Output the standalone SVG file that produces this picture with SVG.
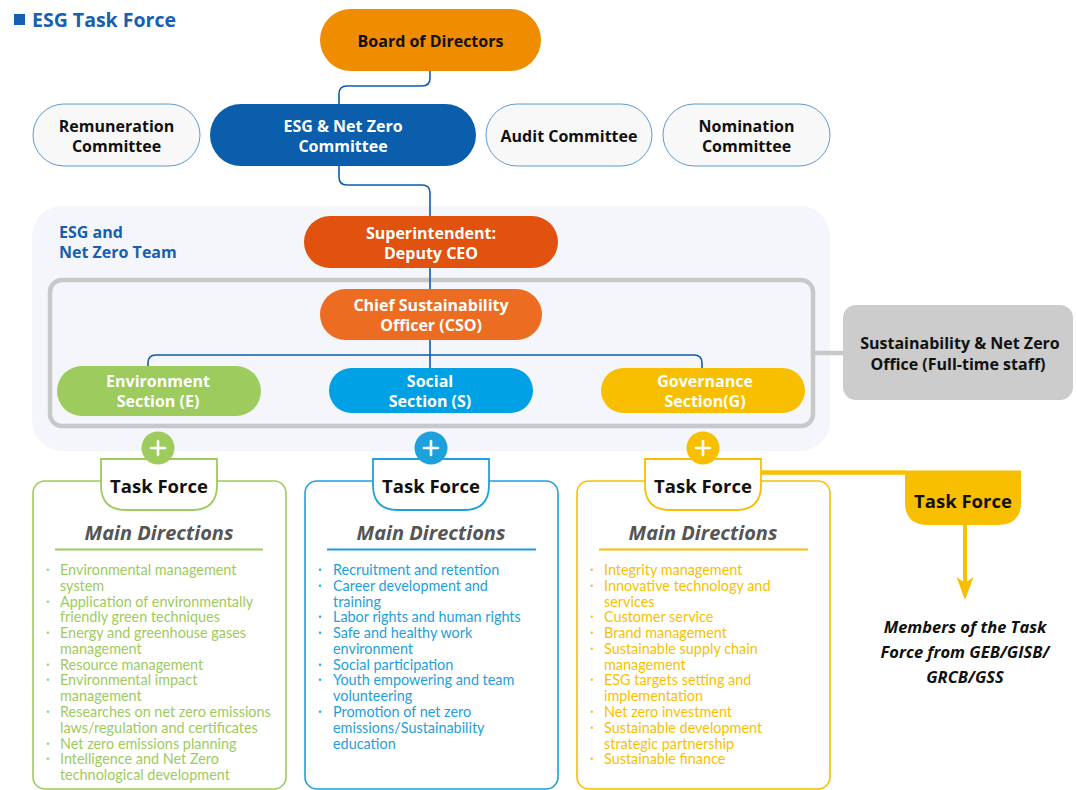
<svg xmlns="http://www.w3.org/2000/svg" width="1077" height="790" viewBox="0 0 1077 790">
  <style>
    text { font-family: "Open Sans", Lato, "Liberation Sans", sans-serif; }
    .title { font-size: 19.5px; font-weight: 700; fill: #1560b0; }
    .nb { font-size: 16px; font-weight: 700; text-anchor: middle; }
    .dark { fill: #111; }
    .light { fill: #fff; }
    .team { font-size: 16px; font-weight: 700; fill: #1560b0; }
    .committee { fill: #f8f8f8; stroke: #5b9bd5; stroke-width: 1; }
    .conn { fill: none; stroke: #0a5eab; stroke-width: 1.6; }
    .tf { font-size: 18.5px; font-weight: 700; fill: #111; text-anchor: middle; }
    .md { font-size: 20px; font-weight: 700; font-style: italic; fill: #555; text-anchor: middle; }
    .li { font-family: Lato, "Open Sans", sans-serif; font-size: 14.4px; }
    .bul { font-size: 10px; }
    .green { fill: #9dcb5d; }
    .blue { fill: #1ea0dc; }
    .yellow { fill: #f8bf00; }
    .gs { stroke: #9dcb5d; }
    .bs { stroke: #1ea0dc; }
    .ys { stroke: #f8bf00; }
    .box { fill: #fff; stroke-width: 1.6; }
    .tab { fill: #fff; stroke-width: 1.8; }
    .plus { stroke: #fff; stroke-width: 2.6; stroke-linecap: round; }
    .members { font-size: 16.5px; font-weight: 700; font-style: italic; fill: #111; text-anchor: middle; }
  </style>

  <rect width="1077" height="790" fill="#fff"/>

  <!-- heading -->
  <g id="heading">
    <rect x="14" y="14" width="11" height="11" fill="#1560b0"/>
    <text class="title" x="32" y="27">ESG Task Force</text>
  </g>

  <!-- team background panel and staff frame -->
  <g id="team-panel">
    <rect x="32" y="206" width="798" height="245" rx="30" fill="#f4f6fb"/>
    <text class="team" x="59" y="238">ESG and</text>
    <text class="team" x="59" y="258">Net Zero Team</text>
    <rect x="50" y="280" width="763" height="146" rx="12" fill="none" stroke="#c8c8c8" stroke-width="4.5"/>
  </g>

  <!-- connectors -->
  <g id="connectors">
    <path class="conn" d="M430,71 V78 Q430,86 422,86 H347 Q339,86 339,94 V104"/>
    <path class="conn" d="M339,166 V177 Q339,185 347,185 H422 Q430,185 430,193 V216"/>
    <path class="conn" d="M430,268 V289"/>
    <path class="conn" d="M430,340 V368"/>
    <path class="conn" d="M148,366 V363 Q148,355 156,355 H694 Q702,355 702,363 V368"/>
    <path d="M815,353 H843" stroke="#c8c8c8" stroke-width="4.5" fill="none"/>
    <path d="M761,472.5 H906" stroke="#f8bf00" stroke-width="4.5" fill="none"/>
    <path d="M965,525 V585" stroke="#f8bf00" stroke-width="4" fill="none"/>
    <polygon points="956.5,577 965,600 973.5,577 965,583" fill="#f8bf00"/>
  </g>

  <!-- governance nodes -->
  <g id="board">
    <rect x="320" y="9" width="221" height="62" rx="31" fill="#f08c00"/>
    <text class="nb dark" x="430.5" y="46.5">Board of Directors</text>
  </g>
  <g id="remuneration">
    <rect class="committee" x="33" y="104" width="167" height="62" rx="31"/>
    <text class="nb dark" x="116.5" y="132">Remuneration</text>
    <text class="nb dark" x="116.5" y="152">Committee</text>
  </g>
  <g id="esg-committee">
    <rect x="210" y="104" width="266" height="62" rx="31" fill="#0a5eab"/>
    <text class="nb light" x="343" y="132">ESG &amp; Net Zero</text>
    <text class="nb light" x="343" y="152">Committee</text>
  </g>
  <g id="audit">
    <rect class="committee" x="486" y="104" width="166" height="62" rx="31"/>
    <text class="nb dark" x="569" y="142">Audit Committee</text>
  </g>
  <g id="nomination">
    <rect class="committee" x="663" y="104" width="167" height="62" rx="31"/>
    <text class="nb dark" x="746.5" y="132">Nomination</text>
    <text class="nb dark" x="746.5" y="152">Committee</text>
  </g>

  <g id="superintendent">
    <rect x="304" y="216" width="254" height="52" rx="26" fill="#e0520e"/>
    <text class="nb light" x="431" y="239">Superintendent:</text>
    <text class="nb light" x="431" y="259">Deputy CEO</text>
  </g>
  <g id="cso">
    <rect x="320" y="289" width="222" height="51" rx="25.5" fill="#ec6d21"/>
    <text class="nb light" x="431" y="311">Chief Sustainability</text>
    <text class="nb light" x="431" y="331">Officer (CSO)</text>
  </g>
  <g id="environment-section">
    <rect x="57" y="366" width="204" height="50" rx="25" fill="#9dcb5d"/>
    <text class="nb light" x="158" y="387">Environment</text>
    <text class="nb light" x="158" y="407">Section (E)</text>
  </g>
  <g id="social-section">
    <rect x="329" y="368" width="204" height="45" rx="22.5" fill="#00a0e4"/>
    <text class="nb light" x="430" y="387">Social</text>
    <text class="nb light" x="430" y="407">Section (S)</text>
  </g>
  <g id="governance-section">
    <rect x="601" y="368" width="204" height="45" rx="22.5" fill="#f8bf00"/>
    <text class="nb light" x="705" y="387">Governance</text>
    <text class="nb light" x="705" y="407">Section(G)</text>
  </g>
  <g id="office">
    <rect x="843" y="305" width="230" height="95" rx="13" fill="#cbcccb"/>
    <text class="nb dark" x="960" y="349">Sustainability &amp; Net Zero</text>
    <text class="nb dark" x="958" y="370">Office (Full-time staff)</text>
  </g>

  <!-- environment task force -->
  <g id="tf-environment">
    <rect class="box gs" x="33" y="481" width="253" height="308" rx="12"/>
    <path class="tab gs" d="M101,459 H217 V485 Q217,510 192,510 H126 Q101,510 101,485 Z"/>
    <circle cx="158" cy="448" r="16.5" fill="#9dcb5d"/>
    <path class="plus" d="M151,448 H165 M158,441 V455"/>
    <text class="tf" x="159" y="493">Task Force</text>
    <text class="md" x="159" y="540">Main Directions</text>
    <path d="M55,549.5 H263" stroke="#9dcb5d" stroke-width="2"/>
    <g class="green">
      <text class="bul" x="46" y="574">•</text><text class="li" x="60" y="575">Environmental management</text>
      <text class="li" x="60" y="590.8">system</text>
      <text class="bul" x="46" y="605.5">•</text><text class="li" x="60" y="606.5">Application of environmentally</text>
      <text class="li" x="60" y="622.3">friendly green techniques</text>
      <text class="bul" x="46" y="637">•</text><text class="li" x="60" y="638">Energy and greenhouse gases</text>
      <text class="li" x="60" y="653.8">management</text>
      <text class="bul" x="46" y="668.6">•</text><text class="li" x="60" y="669.6">Resource management</text>
      <text class="bul" x="46" y="684.4">•</text><text class="li" x="60" y="685.4">Environmental impact</text>
      <text class="li" x="60" y="701.2">management</text>
      <text class="bul" x="46" y="716">•</text><text class="li" x="60" y="717">Researches on net zero emissions</text>
      <text class="li" x="60" y="732.8">laws/regulation and certificates</text>
      <text class="bul" x="46" y="747.6">•</text><text class="li" x="60" y="748.6">Net zero emissions planning</text>
      <text class="bul" x="46" y="763.4">•</text><text class="li" x="60" y="764.4">Intelligence and Net Zero</text>
      <text class="li" x="60" y="780.2">technological development</text>
    </g>
  </g>

  <!-- social task force -->
  <g id="tf-social">
    <rect class="box bs" x="305" y="481" width="253" height="308" rx="12"/>
    <path class="tab bs" d="M373,459 H489 V485 Q489,510 464,510 H398 Q373,510 373,485 Z"/>
    <circle cx="431" cy="448" r="16.5" fill="#1ea0dc"/>
    <path class="plus" d="M424,448 H438 M431,441 V455"/>
    <text class="tf" x="431" y="493">Task Force</text>
    <text class="md" x="431" y="540">Main Directions</text>
    <path d="M327,549.5 H536" stroke="#1ea0dc" stroke-width="2"/>
    <g class="blue">
      <text class="bul" x="318" y="574">•</text><text class="li" x="333" y="575">Recruitment and retention</text>
      <text class="bul" x="318" y="589.8">•</text><text class="li" x="333" y="590.8">Career development and</text>
      <text class="li" x="333" y="606.5">training</text>
      <text class="bul" x="318" y="621.3">•</text><text class="li" x="333" y="622.3">Labor rights and human rights</text>
      <text class="bul" x="318" y="637">•</text><text class="li" x="333" y="638">Safe and healthy work</text>
      <text class="li" x="333" y="653.8">environment</text>
      <text class="bul" x="318" y="668.6">•</text><text class="li" x="333" y="669.6">Social participation</text>
      <text class="bul" x="318" y="684.4">•</text><text class="li" x="333" y="685.4">Youth empowering and team</text>
      <text class="li" x="333" y="701.2">volunteering</text>
      <text class="bul" x="318" y="716">•</text><text class="li" x="333" y="717">Promotion of net zero</text>
      <text class="li" x="333" y="732.8">emissions/Sustainability</text>
      <text class="li" x="333" y="748.6">education</text>
    </g>
  </g>

  <!-- governance task force -->
  <g id="tf-governance">
    <rect class="box ys" x="577" y="481" width="253" height="308" rx="12"/>
    <path class="tab ys" d="M645,459 H761 V485 Q761,510 736,510 H670 Q645,510 645,485 Z"/>
    <circle cx="703" cy="448" r="16.5" fill="#f8bf00"/>
    <path class="plus" d="M696,448 H710 M703,441 V455"/>
    <text class="tf" x="703" y="493">Task Force</text>
    <text class="md" x="703" y="540">Main Directions</text>
    <path d="M599,549.5 H808" stroke="#f8bf00" stroke-width="2"/>
    <g class="yellow">
      <text class="bul" x="590" y="574">•</text><text class="li" x="604" y="575">Integrity management</text>
      <text class="bul" x="590" y="589.8">•</text><text class="li" x="604" y="590.8">Innovative technology and</text>
      <text class="li" x="604" y="606.5">services</text>
      <text class="bul" x="590" y="621.3">•</text><text class="li" x="604" y="622.3">Customer service</text>
      <text class="bul" x="590" y="637">•</text><text class="li" x="604" y="638">Brand management</text>
      <text class="bul" x="590" y="652.8">•</text><text class="li" x="604" y="653.8">Sustainable supply chain</text>
      <text class="li" x="604" y="669.6">management</text>
      <text class="bul" x="590" y="684.4">•</text><text class="li" x="604" y="685.4">ESG targets setting and</text>
      <text class="li" x="604" y="701.2">implementation</text>
      <text class="bul" x="590" y="716">•</text><text class="li" x="604" y="717">Net zero investment</text>
      <text class="bul" x="590" y="731.8">•</text><text class="li" x="604" y="732.8">Sustainable development</text>
      <text class="li" x="604" y="748.6">strategic partnership</text>
      <text class="bul" x="590" y="763.4">•</text><text class="li" x="604" y="764.4">Sustainable finance</text>
    </g>
  </g>

  <!-- group-wide task force -->
  <g id="tf-group">
    <path d="M905,470.5 H1021 V502 Q1021,525 998,525 H928 Q905,525 905,502 Z" fill="#f8bf00"/>
    <text class="tf" x="963" y="508">Task Force</text>
  </g>
  <g id="members">
    <text class="members" x="965" y="633">Members of the Task</text>
    <text class="members" x="965" y="658">Force from GEB/GISB/</text>
    <text class="members" x="965" y="683">GRCB/GSS</text>
  </g>
</svg>
